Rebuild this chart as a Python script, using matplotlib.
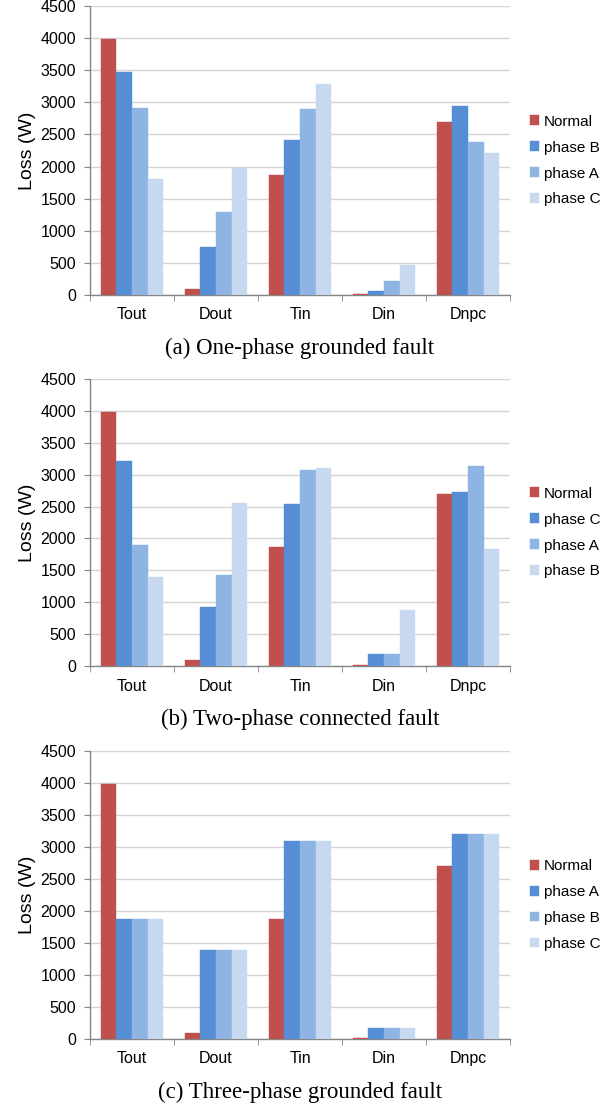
"""Switch loss comparison under three fault types (grouped bars)."""

import matplotlib

matplotlib.use("Agg")
import numpy as np  # noqa: E402
from matplotlib import pyplot as plt  # noqa: E402

devices = ["Tout", "Dout", "Tin", "Din", "Dnpc"]

# (a) one-phase grounded fault
labels_a = ["Normal", "phase B", "phase A", "phase C"]
normal_a = [3990, 100, 1870, 20, 2700]
first_a = [3470, 740, 2410, 65, 2945]
second_a = [2910, 1290, 2890, 220, 2380]
third_a = [1810, 1980, 3280, 460, 2210]

# (b) two-phase connected fault
labels_b = ["Normal", "phase C", "phase A", "phase B"]
normal_b = [3990, 100, 1870, 20, 2700]
first_b = [3210, 925, 2535, 190, 2735]
second_b = [1890, 1430, 3070, 190, 3130]
third_b = [1400, 2550, 3100, 880, 1830]

# (c) three-phase grounded fault
labels_c = ["Normal", "phase A", "phase B", "phase C"]
normal_c = [3990, 100, 1870, 20, 2700]
first_c = [1875, 1385, 3100, 165, 3195]
second_c = [1875, 1385, 3100, 165, 3195]
third_c = [1875, 1385, 3100, 165, 3195]

captions = [
    "(a) One-phase grounded fault",
    "(b) Two-phase connected fault",
    "(c) Three-phase grounded fault",
]

colors = ["#C0504D", "#558ED5", "#8EB4E3", "#C6D9F1"]
SANS = "Liberation Sans"
SERIF = "Liberation Serif"


def draw_panel(ax, series, labels, caption):
    x = np.arange(len(devices))
    width = 0.185
    offsets = (np.arange(len(series)) - (len(series) - 1) / 2) * width
    for values, label, color, off in zip(series, labels, colors, offsets):
        ax.bar(x + off, values, width, color=color, label=label,
               edgecolor=color, linewidth=0.3, zorder=3)
    ax.set_xlim(-0.5, len(devices) - 0.5)
    ax.set_ylim(0, 4500)
    ax.set_yticks(np.arange(0, 4501, 500))
    ax.yaxis.grid(True, color="#D4D4D4", linewidth=1.0, zorder=0)
    ax.set_axisbelow(True)
    ax.set_xticks(x, devices)
    ax.set_xticks(np.arange(-0.5, len(devices)), minor=True)
    ax.tick_params(axis="x", which="major", length=0, pad=9)
    ax.tick_params(axis="x", which="minor", length=4, color="#868686")
    ax.tick_params(axis="y", length=4, color="#868686", pad=6)
    for lab in ax.get_xticklabels() + ax.get_yticklabels():
        lab.set_family(SANS)
        lab.set_fontsize(11.5)
    for side in ("top", "right"):
        ax.spines[side].set_visible(False)
    for side in ("left", "bottom"):
        ax.spines[side].set_color("#868686")
        ax.spines[side].set_linewidth(1.0)
    ax.set_ylabel("Loss (W)", family=SANS, fontsize=14, labelpad=3)
    ax.legend(loc="center left", bbox_to_anchor=(1.03, 0.465), frameon=False,
              prop={"family": SANS, "size": 11}, handlelength=0.6,
              handleheight=0.6, handletextpad=0.3, labelspacing=0.78,
              borderpad=0)
    ax.text(0.5, -0.185, caption, transform=ax.transAxes, ha="center",
            va="center", family=SERIF, fontsize=16.5)


fig = plt.figure(figsize=(6.15, 11.08), dpi=100)
boxes = [
    (0.1463, 0.7338, 0.683, 0.2608),
    (0.1463, 0.3989, 0.683, 0.2590),
    (0.1463, 0.0623, 0.683, 0.2600),
]
panels = [
    ([normal_a, first_a, second_a, third_a], labels_a),
    ([normal_b, first_b, second_b, third_b], labels_b),
    ([normal_c, first_c, second_c, third_c], labels_c),
]
for box, (series, labels), caption in zip(boxes, panels, captions):
    ax = fig.add_axes(box)
    draw_panel(ax, series, labels, caption)

fig.savefig("out.png", dpi=100)
